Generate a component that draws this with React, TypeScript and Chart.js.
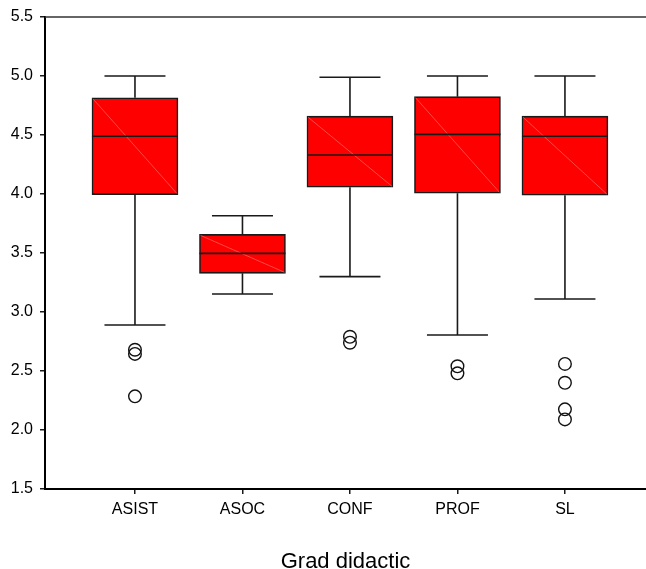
import React, { useEffect, useRef } from "react";
import { Chart, registerables } from "chart.js";

Chart.register(...registerables);

const categories = ["ASIST", "ASOC", "CONF", "PROF", "SL"];
const whiskerMax = [5.0, 3.816, 4.99, 5.0, 5.0];
const q3 = [4.815, 3.658, 4.66, 4.825, 4.66];
const median = [4.49, 3.497, 4.33, 4.505, 4.49];
const q1 = [3.995, 3.328, 4.057, 4.006, 3.99];
const whiskerMin = [2.89, 3.153, 3.30, 2.805, 3.11];

const outliersASIST = [2.68, 2.645, 2.285];
const outliersASOC: number[] = [];
const outliersCONF = [2.79, 2.74];
const outliersPROF = [2.54, 2.48];
const outliersSL = [2.56, 2.40, 2.175, 2.09];
const outlierLists = [outliersASIST, outliersASOC, outliersCONF, outliersPROF, outliersSL];

const yTicks = [1.5, 2.0, 2.5, 3.0, 3.5, 4.0, 4.5, 5.0, 5.5];

const FONT = "'Liberation Sans', Arial, sans-serif";

const boxPlugin = {
  id: "boxExtras",
  afterDatasetsDraw(chart: any) {
    const ctx = chart.ctx;
    const xs = chart.scales.x;
    const ys = chart.scales.y;
    const area = chart.chartArea;
    ctx.save();
    // top frame line
    ctx.strokeStyle = "#333";
    ctx.lineWidth = 1.5;
    ctx.beginPath();
    ctx.moveTo(area.left, area.top);
    ctx.lineTo(chart.width, area.top);
    ctx.stroke();

    const half = 43;
    const capHalf = 30.5;
    categories.forEach((_, i) => {
      const cx = xs.getPixelForValue(i + 1);
      const yTop = ys.getPixelForValue(q3[i]);
      const yBot = ys.getPixelForValue(q1[i]);
      // faint diagonal
      ctx.strokeStyle = "rgba(255,150,150,0.8)";
      ctx.lineWidth = 0.6;
      ctx.beginPath();
      ctx.moveTo(cx - half + 1, yTop + 1);
      ctx.lineTo(cx + half - 1, yBot - 1);
      ctx.stroke();

      ctx.strokeStyle = "#1a1a1a";
      ctx.lineWidth = 1.6;
      // median
      const ym = ys.getPixelForValue(median[i]);
      ctx.beginPath();
      ctx.moveTo(cx - half, ym);
      ctx.lineTo(cx + half, ym);
      ctx.stroke();
      // whiskers
      const yMax = ys.getPixelForValue(whiskerMax[i]);
      const yMin = ys.getPixelForValue(whiskerMin[i]);
      ctx.beginPath();
      ctx.moveTo(cx, yTop);
      ctx.lineTo(cx, yMax);
      ctx.moveTo(cx - capHalf, yMax);
      ctx.lineTo(cx + capHalf, yMax);
      ctx.moveTo(cx, yBot);
      ctx.lineTo(cx, yMin);
      ctx.moveTo(cx - capHalf, yMin);
      ctx.lineTo(cx + capHalf, yMin);
      ctx.stroke();
    });
    ctx.restore();
  },
};

export default function App() {
  const canvasRef = useRef<HTMLCanvasElement | null>(null);

  useEffect(() => {
    if (!canvasRef.current) return;
    const boxData = categories.map((_, i) => ({ x: i + 1, y: [q1[i], q3[i]] }));
    const outlierData: { x: number; y: number }[] = [];
    outlierLists.forEach((list, i) => list.forEach((v) => outlierData.push({ x: i + 1, y: v })));

    const chart = new Chart(canvasRef.current, {
      type: "bar",
      data: {
        datasets: [
          {
            type: "bar",
            data: boxData as any,
            backgroundColor: "#ff0000",
            borderColor: "#1a1a1a",
            borderWidth: 1.6,
            borderSkipped: false,
            barThickness: 86,
          } as any,
          {
            type: "scatter",
            data: outlierData,
            pointStyle: "circle",
            pointRadius: 6.3,
            backgroundColor: "rgba(255,255,255,0)",
            borderColor: "#111",
            borderWidth: 1.4,
          } as any,
        ],
      },
      options: {
        animation: false,
        responsive: false,
        maintainAspectRatio: false,
        layout: { autoPadding: false, padding: { top: 17, right: 0, bottom: 0, left: 0 } },
        plugins: { legend: { display: false }, tooltip: { enabled: false } },
        scales: {
          x: {
            type: "linear",
            min: 0.163,
            max: 5.754,
            offset: false,
            afterBuildTicks: (scale: any) => {
              scale.ticks = categories.map((_, i) => ({ value: i + 1 }));
            },
            afterFit: (scale: any) => {
              scale.height = 80;
              scale.paddingLeft = 0;
              scale.paddingRight = 0;
            },
            ticks: {
              autoSkip: false,
              maxRotation: 0,
              color: "#000",
              font: { family: FONT, size: 16 },
              padding: 6,
              callback: (v: any) => categories[Math.round(Number(v)) - 1] ?? "",
            },
            grid: { display: true, offset: false, drawOnChartArea: false, drawTicks: true, tickLength: 5, color: "#1a1a1a", lineWidth: 1.5 },
            border: { display: true, color: "#000", width: 2 },
            title: {
              display: true,
              text: "Grad didactic",
              color: "#000",
              font: { family: FONT, size: 22, lineHeight: 1 },
              padding: { top: 0, bottom: -4 },
            },
          },
          y: {
            min: 1.5,
            max: 5.5,
            afterBuildTicks: (scale: any) => {
              scale.ticks = yTicks.map((v) => ({ value: v }));
            },
            afterFit: (scale: any) => {
              scale.width = 45;
            },
            ticks: {
              color: "#000",
              font: { family: FONT, size: 16 },
              padding: 7,
              callback: (v: any) => Number(v).toFixed(1),
            },
            grid: { display: true, drawOnChartArea: false, drawTicks: true, tickLength: 5, color: "#1a1a1a", lineWidth: 1.5 },
            border: { display: true, color: "#000", width: 2 },
          },
        },
      },
      plugins: [boxPlugin],
    });
    return () => chart.destroy();
  }, []);

  return (
    <div style={{ position: "fixed", left: 0, top: 0, width: 646, height: 569, background: "#fff" }}>
      <canvas ref={canvasRef} width={646} height={569} style={{ width: 646, height: 569, display: "block" }} />
    </div>
  );
}
